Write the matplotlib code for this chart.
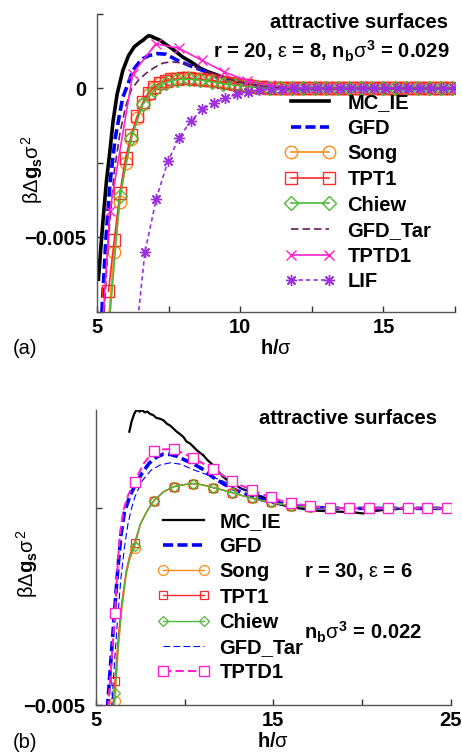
import numpy as np
import matplotlib
matplotlib.use("Agg")
import matplotlib.pyplot as plt
from matplotlib.ticker import FixedLocator, FixedFormatter

plt.rcParams['font.family'] = ['Liberation Sans', 'DejaVu Sans']
plt.rcParams['mathtext.fontset'] = 'custom'
plt.rcParams['mathtext.rm'] = 'Liberation Sans'
plt.rcParams['mathtext.it'] = 'Liberation Sans'
plt.rcParams['mathtext.bf'] = 'Liberation Sans:bold'

# ---------------- panel (a): r = 20, eps = 8 ----------------
a_mc_x = [5.05, 5.12, 5.22, 5.33, 5.45, 5.56, 5.7, 5.9, 6.1, 6.3, 6.5, 6.62, 6.7, 6.8,
          6.9, 7.0, 7.2, 7.4, 7.6, 7.8, 8.0, 8.3, 8.6, 8.9, 9.2, 9.5, 9.8, 10.2, 10.6,
          11.0, 11.5, 12.0, 13.0, 14.0, 15.0, 16.0, 17.5]
a_mc_y = [-0.0064, -0.0055, -0.0043, -0.0031, -0.0021, -0.0011, -0.0002, 0.0006, 0.0011,
          0.0014, 0.00155, 0.00163, 0.0017, 0.00177, 0.00175, 0.0017, 0.00162, 0.00148,
          0.00135, 0.0012, 0.00105, 0.00088, 0.00068, 0.00055, 0.00045, 0.00033, 0.00026,
          0.00018, 0.00009, 0.00003, 0.0, -0.00001, 0.0, 0.0, 0.0, 0.0, 0.0]

a_gfd_x = [5.17, 5.3, 5.45, 5.63, 5.8, 5.9, 6.1, 6.25, 6.45, 6.6, 6.8, 7.1, 7.4, 7.8, 8.2,
           8.7, 9.0, 9.4, 9.8, 10.2, 10.6, 11.0, 11.5, 12.0, 17.5]
a_gfd_y = [-0.0075, -0.0052, -0.0032, -0.0017, -0.0008, -0.0003, 0.0002, 0.0006, 0.00085,
           0.001, 0.0011, 0.00117, 0.00115, 0.00095, 0.00078, 0.0006, 0.00047, 0.0003,
           0.0002, 0.00012, 0.00006, 0.00003, 0.00001, 0.0, 0.0]

a_tar_x = [5.25, 5.4, 5.6, 5.8, 6.0, 6.2, 6.45, 6.7, 7.0, 7.3, 7.6, 8.0, 8.4, 8.8, 9.2,
           9.6, 10.0, 10.4, 10.8, 11.3, 12.0, 17.5]
a_tar_y = [-0.0075, -0.005, -0.0028, -0.0015, -0.0006, -0.00003, 0.00028, 0.0005, 0.0007,
           0.00085, 0.0009, 0.00085, 0.00072, 0.00058, 0.00045, 0.00032, 0.00021, 0.00013,
           0.00007, 0.00003, 0.0, 0.0]

a_low_x = np.round(np.arange(5.4, 17.45, 0.2), 1)
a_tpt1_y = [-0.0068, -0.0051, -0.0035, -0.00232, -0.00155, -0.00093, -0.00047, -0.00014,
            0.00006, 0.00018, 0.00026, 0.00031, 0.00033, 0.00034, 0.00034, 0.00033,
            0.00031, 0.00029, 0.00027, 0.00024, 0.00021, 0.00018, 0.00015, 0.00013,
            0.0001, 0.00008, 0.00006, 0.00005, 0.00003, 0.00002, 0.00001] + [0.0] * 30
a_song_y = [-0.0078, -0.0055, -0.0038, -0.0025, -0.0017, -0.001, -0.00052, -0.00018,
            0.00003, 0.00017, 0.00026, 0.00031, 0.00033, 0.00034, 0.00034, 0.00033,
            0.00031, 0.00029, 0.00027, 0.00024, 0.00021, 0.00018, 0.00015, 0.00013,
            0.0001, 0.00008, 0.00006, 0.00005, 0.00003, 0.00002, 0.00001] + [0.0] * 30

a_chiew_x = np.round(np.arange(5.4, 17.45, 0.4), 1)
a_chiew_y = [-0.0082, -0.0036, -0.00165, -0.00053, -0.00005, 0.0002, 0.0003, 0.00031,
             0.00028, 0.00022, 0.00016, 0.00011, 0.00007, 0.00004, 0.00002, 0.00001] + [0.0] * 15

a_tptd1_x = [5.2, 5.45, 6.25, 7.05, 7.85, 8.65, 9.45, 10.25, 11.05, 11.85, 12.65, 13.45,
             14.25, 15.05, 15.85, 16.65, 17.45]
a_tptd1_y = [-0.0079, -0.0041, 0.0005, 0.0015, 0.00135, 0.00095, 0.00055, 0.00026, 0.0001,
             0.00003, 0.0, 0.0, 0.0, 0.0, 0.0, 0.0, 0.0]

a_lif_x = np.round(np.arange(6.27, 17.5, 0.4), 2)
a_lif_y = [-0.0092, -0.0055, -0.0037, -0.00245, -0.00165, -0.0011, -0.0007, -0.00049,
           -0.00033, -0.0002, -0.00011, -0.00006, -0.00003, -0.00001] + [0.0] * 15

# ---------------- panel (b): r = 30, eps = 6 ----------------
b_mc_x = [6.88, 7.0, 7.15, 7.29, 7.45, 7.6, 7.75, 7.9, 8.05, 8.23, 8.4, 8.6, 8.8, 9.0, 9.2,
          9.36, 9.55, 9.7, 9.92, 10.1, 10.3, 10.48, 10.7, 10.9, 11.05, 11.3, 11.6, 11.9,
          12.17, 12.45, 12.74, 13.2, 13.7, 14.1, 14.6, 15.1, 15.55, 16.0, 16.5, 17.0, 17.4,
          18.0, 18.4, 19.0, 19.5, 20.06, 20.5, 21.2, 21.8, 22.5, 23.5, 25.0]
b_mc_y = [0.00195, 0.0022, 0.0024, 0.00251, 0.00246, 0.0025, 0.00244, 0.00246, 0.0024,
          0.00237, 0.0023, 0.00228, 0.00224, 0.00215, 0.0021, 0.00203, 0.00195, 0.0019,
          0.00182, 0.0017, 0.00165, 0.00157, 0.00147, 0.0014, 0.00135, 0.00122, 0.0011,
          0.00093, 0.0008, 0.0007, 0.00063, 0.0005, 0.00042, 0.00033, 0.00025, 0.00015,
          0.00008, 0.00003, 0.0, -0.00004, -0.00006, -0.00007, -0.00008, -0.00009, -0.0001,
          -0.00013, -0.00008, -0.00004, -0.00002, 0.0, 0.0, 0.0]

b_gfd_x = [5.64, 5.8, 6.0, 6.2, 6.4, 6.6, 6.9, 7.2, 7.6, 8.0, 8.4, 8.8, 9.2, 9.6, 10.0,
           10.5, 11.0, 11.6, 12.2, 12.7, 13.3, 14.0, 14.5, 15.2, 16.0, 17.0, 18.0, 19.0, 25.0]
b_gfd_y = [-0.0051, -0.0041, -0.0029, -0.0017, -0.0007, -0.0001, 0.0003, 0.00059, 0.0009,
           0.00115, 0.0013, 0.00138, 0.00137, 0.00132, 0.00123, 0.00113, 0.001, 0.00079,
           0.00062, 0.0005, 0.00038, 0.00027, 0.0002, 0.00013, 0.00007, 0.00003, 0.00001,
           0.0, 0.0]

b_tar_x = [5.88, 6.0, 6.2, 6.4, 6.6, 6.8, 7.0, 7.2, 7.6, 8.1, 8.6, 9.2, 9.8, 10.5, 11.0,
           12.0, 12.74, 13.6, 14.6, 15.5, 16.5, 17.5, 18.5, 25.0]
b_tar_y = [-0.0051, -0.0042, -0.0029, -0.0018, -0.001, -0.0004, 0.0, 0.0003, 0.0007,
           0.00097, 0.0011, 0.00116, 0.00112, 0.00098, 0.0009, 0.00072, 0.00059, 0.00042,
           0.00028, 0.00015, 0.00008, 0.00003, 0.0, 0.0]

b_low_x = [5.94, 6.07, 6.25, 6.45, 6.7, 6.9, 7.17, 7.5, 7.9, 8.27, 8.8, 9.37, 9.9, 10.47,
           11.0, 11.57, 12.1, 12.67, 13.2, 13.77, 14.3, 14.87, 15.4, 15.97, 16.5, 17.07,
           18.17, 19.27, 20.37, 21.47, 22.57, 23.67, 24.77]
b_low_tail = [-0.0004, -0.00005, 0.0002, 0.00042, 0.00055, 0.0006, 0.00063, 0.0006,
              0.00053, 0.00047, 0.0004, 0.00033, 0.00026, 0.0002, 0.00016, 0.00011, 0.00007,
              0.00005, 0.00003, 0.00001, 0.0, 0.0, 0.0, 0.0, 0.0, 0.0]
b_tpt1_y = [-0.0051, -0.0044, -0.0033, -0.0024, -0.0016, -0.0012, -0.00088] + b_low_tail
b_chiew_y = [-0.0054, -0.0047, -0.0035, -0.0025, -0.00165, -0.00125, -0.00095] + b_low_tail
b_song_y = [-0.0056, -0.0049, -0.0036, -0.0026, -0.0017, -0.0013, -0.001] + b_low_tail
b_low_marks = [1, 6, 9, 11, 13, 15, 17, 19, 21, 23, 25, 26, 27, 28, 29, 30, 31, 32]

b_tptd1_x = [5.68, 5.85, 6.07, 6.2, 6.35, 6.54, 6.8, 7.17, 7.7, 8.27, 8.8, 9.37, 9.9, 10.47,
             11.0, 11.57, 12.1, 12.67, 13.2, 13.77, 14.3, 14.87, 15.4, 15.97, 16.5, 17.07,
             18.17, 19.27, 20.37, 21.47, 22.57, 23.67, 24.77]
b_tptd1_y = [-0.0051, -0.004, -0.00267, -0.0016, -0.00064, -0.00005, 0.00032, 0.00068,
             0.00115, 0.00146, 0.0015, 0.00151, 0.0014, 0.00129, 0.00115, 0.001, 0.00085,
             0.0007, 0.00058, 0.00047, 0.00037, 0.00028, 0.0002, 0.00014, 0.0001, 0.00006,
             0.0, 0.0, 0.0, 0.0, 0.0, 0.0, 0.0]
b_tptd1_marks = [2, 7, 9, 11, 13, 15, 17, 19, 21, 23, 25, 26, 27, 28, 29, 30, 31, 32]

a_xticks = [5, 7.5, 10, 12.5, 15, 17.5]
a_xlabels = ['5', '', '10', '', '15', '']
a_yticks = [-0.0075, -0.005, -0.0025, 0, 0.0025]
a_ylabels = ['', '\u22120.005', '', '0', '']
b_xticks = [5, 10, 15, 20, 25]
b_xlabels = ['5', '', '15', '', '25']
b_yticks = [-0.005, 0]
b_ylabels = ['\u22120.005', '']

FS = 14.5
ORANGE = '#ff8c1a'
RED = '#ff2a2a'
GREEN = '#4cbb3a'
MAGENTA = '#ff22cc'
VIOLET = '#9b30e0'

fig = plt.figure(figsize=(4.62, 7.55), dpi=100)
ax1 = fig.add_axes([0.21, 0.5868, 0.775, 0.3947])
ax2 = fig.add_axes([0.2078, 0.0662, 0.768, 0.3907])

ax1.plot(a_mc_x, a_mc_y, color='black', lw=2.6, label='MC_IE')
ax1.plot(a_gfd_x, a_gfd_y, color='blue', lw=2.6, ls=(0, (2.8, 1.2)), label='GFD')
ax1.plot(a_low_x, a_song_y, color=ORANGE, lw=1.2, marker='o', ms=9, mfc='none', mew=1.0, label='Song')
ax1.plot(a_low_x, a_tpt1_y, color=RED, lw=1.2, marker='s', ms=8.3, mfc='none', mew=1.0, label='TPT1')
ax1.plot(a_chiew_x, a_chiew_y, color=GREEN, lw=1.2, marker='D', ms=6.8, mfc='none', mew=1.0, label='Chiew')
ax1.plot(a_tar_x, a_tar_y, color='#6b1c57', lw=1.2, ls=(0, (4.5, 2.4)), label='GFD_Tar')
ax1.plot(a_tptd1_x, a_tptd1_y, color=MAGENTA, lw=1.2, marker='x', ms=7.5, mew=1.0, label='TPTD1')
ax1.plot(a_lif_x, a_lif_y, color=VIOLET, lw=1.2, ls=(0, (2.6, 1.9)), marker=(8, 2, 0), ms=8,
         mew=1.0, label='LIF')

ax2.plot(b_mc_x, b_mc_y, color='black', lw=1.6, label='MC_IE')
ax2.plot(b_gfd_x, b_gfd_y, color='blue', lw=2.6, ls=(0, (2.8, 1.2)), label='GFD')
ax2.plot(b_low_x, b_song_y, color=ORANGE, lw=1.0, marker='o', ms=7.2, mfc='none', mew=0.9,
         markevery=b_low_marks, label='Song')
ax2.plot(b_low_x, b_tpt1_y, color=RED, lw=1.0, marker='s', ms=6.0, mfc='none', mew=0.9,
         markevery=b_low_marks, label='TPT1')
ax2.plot(b_low_x, b_chiew_y, color=GREEN, lw=1.0, marker='D', ms=4.8, mfc='none', mew=0.9,
         markevery=b_low_marks, label='Chiew')
ax2.plot(b_tar_x, b_tar_y, color='blue', lw=0.8, ls=(0, (6, 3)), label='GFD_Tar')
ax2.plot(b_tptd1_x, b_tptd1_y, color=MAGENTA, lw=1.5, ls=(0, (4, 2)), marker='s', ms=7.0,
         mfc='white', mew=1.0, markevery=b_tptd1_marks, label='TPTD1')

for ax, xl, yl, xt, xtl, yt, ytl in [
        (ax1, (5, 17.5), (-0.0075, 0.0025), a_xticks, a_xlabels, a_yticks, a_ylabels),
        (ax2, (5, 25), (-0.005, 0.0025), b_xticks, b_xlabels, b_yticks, b_ylabels)]:
    ax.set_xlim(*xl)
    ax.set_ylim(*yl)
    ax.xaxis.set_major_locator(FixedLocator(xt))
    ax.xaxis.set_major_formatter(FixedFormatter(xtl))
    ax.yaxis.set_major_locator(FixedLocator(yt))
    ax.yaxis.set_major_formatter(FixedFormatter(ytl))
    for s in ['top', 'right']:
        ax.spines[s].set_visible(False)
    for s in ['left', 'bottom']:
        ax.spines[s].set_color('#555555')
        ax.spines[s].set_linewidth(1.0)
    ax.tick_params(direction='in', length=4, width=1, color='#333333', labelsize=FS)
    ax.tick_params(axis='y', pad=8)
    ax.tick_params(axis='x', pad=4.5)
    for lab in ax.get_xticklabels() + ax.get_yticklabels():
        lab.set_fontweight('bold')
    ax.set_xlabel(r'h/$\sigma$', fontsize=FS, fontweight='bold', labelpad=1)
    ax.set_ylabel(r'$\beta\Delta\mathbf{g}_\mathbf{s}\sigma^{2}$', fontsize=FS)

ax1.yaxis.set_label_coords(-0.145, 0.476)
ax2.yaxis.set_label_coords(-0.157, 0.48)

ax1.legend(loc='upper left', bbox_to_anchor=(0.525, 0.735), frameon=False,
           prop={'weight': 'bold', 'size': FS}, numpoints=2, handlelength=2.5,
           handletextpad=0.6, labelspacing=0.33, borderpad=0, borderaxespad=0)
ax2.legend(loc='upper left', bbox_to_anchor=(0.172, 0.655), frameon=False,
           prop={'weight': 'bold', 'size': FS}, numpoints=2, handlelength=2.65,
           handletextpad=0.45, labelspacing=0.31, borderpad=0, borderaxespad=0)

ax1.text(0.98, 0.97, 'attractive surfaces', transform=ax1.transAxes, ha='right', va='center',
         fontsize=FS, fontweight='bold')
ax1.text(0.985, 0.875, r'r = 20, $\epsilon$ = 8, n$_\mathbf{b}\sigma^\mathbf{3}$ = 0.029',
         transform=ax1.transAxes, ha='right', va='center', fontsize=FS, fontweight='bold')
ax2.text(0.96, 0.97, 'attractive surfaces', transform=ax2.transAxes, ha='right', va='center',
         fontsize=FS, fontweight='bold')
ax2.text(0.585, 0.454, r'r = 30, $\epsilon$ = 6', transform=ax2.transAxes, ha='left',
         va='center', fontsize=FS, fontweight='bold')
ax2.text(0.585, 0.245, r'n$_\mathbf{b}\sigma^\mathbf{3}$ = 0.022', transform=ax2.transAxes,
         ha='left', va='center', fontsize=FS, fontweight='bold')

fig.text(25 / 462, 1 - 349 / 755, '(a)', ha='center', va='center', fontsize=FS)
fig.text(25 / 462, 1 - 742 / 755, '(b)', ha='center', va='center', fontsize=FS)

fig.savefig('out.png', dpi=100)
